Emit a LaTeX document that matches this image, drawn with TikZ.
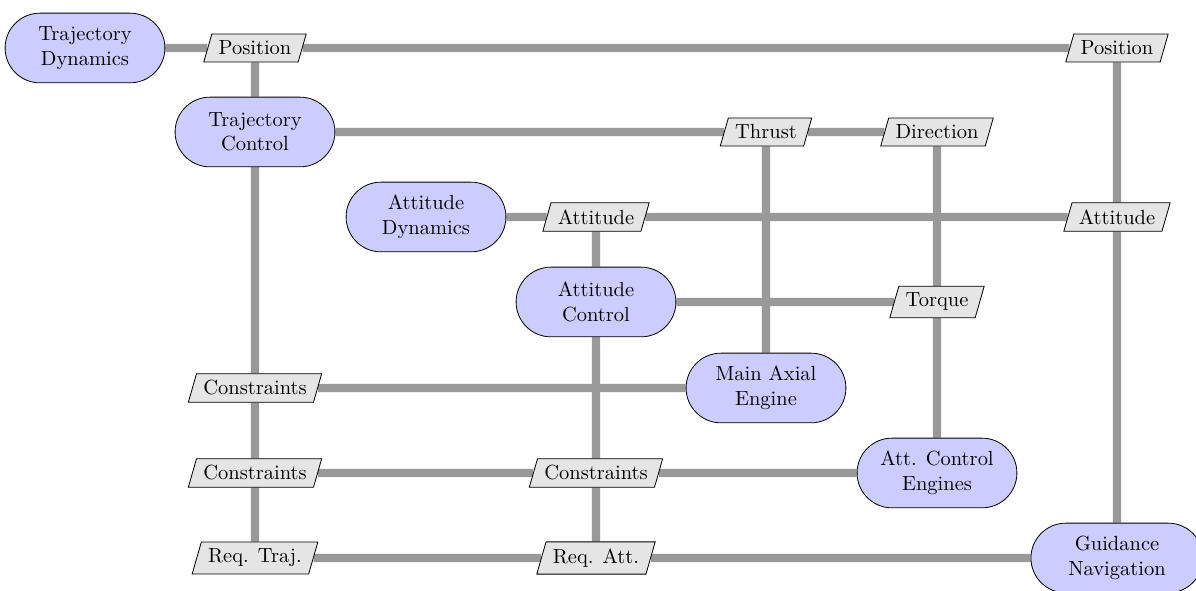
\documentclass[tikz,border=0pt]{standalone}
\usetikzlibrary{shapes.geometric,shapes.misc,backgrounds}
\begin{document}
\begin{tikzpicture}[x=0.488pt,y=-0.488pt,
  blk/.style={rounded rectangle, draw, fill=blue!20, align=center, minimum width=82pt, minimum height=34pt, inner sep=2pt},
  dat/.style={trapezium, trapezium left angle=74, trapezium right angle=106, draw, fill=gray!20, inner sep=0.3333em, trapezium stretches body},
  link/.style={line width=4pt, draw=gray!80}]
\useasboundingbox (0,0) rectangle (1196,591);
\node[blk] (td) at (85,48) {Trajectory\\Dynamics};
\node[dat] (posL) at (255,48) {Position};
\node[dat] (posR) at (1117,48) {Position};
\node[blk] (tc) at (255,132) {Trajectory\\Control};
\node[dat] (thr) at (766,132) {Thrust};
\node[dat] (dir) at (937,132) {Direction};
\node[blk] (ad) at (426,217) {Attitude\\Dynamics};
\node[dat] (attL) at (596,217) {Attitude};
\node[dat] (attR) at (1117,217) {Attitude};
\node[blk] (ac) at (596,302) {Attitude\\Control};
\node[dat] (tor) at (937,302) {Torque};
\node[blk] (mae) at (766,388) {Main Axial\\Engine};
\node[dat] (c1) at (255,388) {Constraints};
\node[dat] (c2) at (255,473) {Constraints};
\node[dat] (c3) at (596,473) {Constraints};
\node[blk] (ace) at (937,473) {Att. Control\\Engines};
\node[dat] (rt) at (255,558) {Req. Traj.};
\node[dat] (ra) at (596,558) {Req. Att.};
\node[blk, minimum width=88pt] (gn) at (1117,558) {Guidance\\Navigation};
\begin{scope}[on background layer]
\draw[link] (td) -- (posL) -- (posR);
\draw[link] (posL) -- (tc);
\draw[link] (posR) -- (attR) -- (gn);
\draw[link] (tc) -- (thr) -- (dir);
\draw[link] (tc) -- (c1) -- (c2) -- (rt);
\draw[link] (thr) -- (mae);
\draw[link] (dir) -- (tor) -- (ace);
\draw[link] (ad) -- (attL) -- (attR);
\draw[link] (attL) -- (ac);
\draw[link] (ac) -- (tor);
\draw[link] (ac) -- (c3) -- (ra);
\draw[link] (c1) -- (mae);
\draw[link] (c2) -- (c3) -- (ace);
\draw[link] (rt) -- (ra) -- (gn);
\end{scope}
\end{tikzpicture}
\end{document}
